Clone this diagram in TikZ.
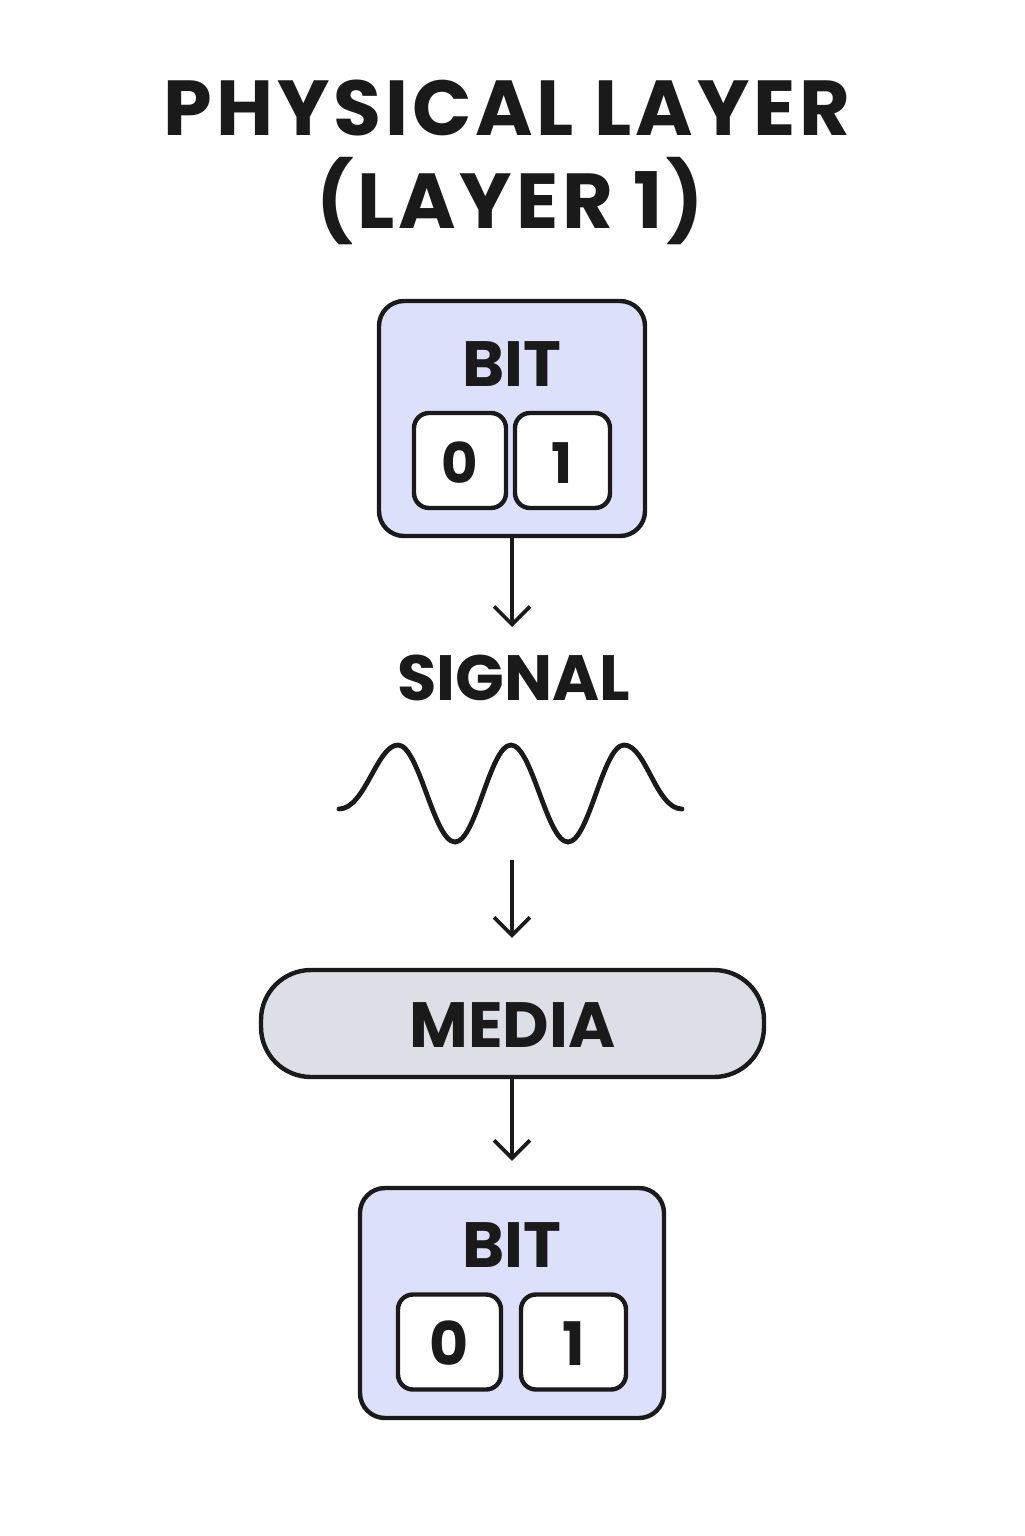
\documentclass[tikz,border=0pt]{standalone}
\usepackage{fontspec}
\setmainfont{Poppins}
\usetikzlibrary{arrows.meta}
\definecolor{ink}{HTML}{1A1A1A}
\definecolor{lav}{HTML}{DDE0FA}
\definecolor{mediagray}{HTML}{DCE0E6}
\tikzset{
  bitbox/.style={draw=ink, line width=2.2pt, fill=lav, rounded corners=12.5pt, inner sep=0pt},
  digbox/.style={draw=ink, line width=2.2pt, fill=white, rounded corners=7.5pt, inner sep=0pt, minimum height=47.5pt},
  mediabox/.style={draw=ink, line width=2.2pt, fill=mediagray, rounded corners=25pt, inner sep=0pt, minimum width=251.5pt, minimum height=53.5pt},
  lbl/.style={text=ink, font=\fontsize{32}{38}\selectfont\bfseries, anchor=base, inner sep=0pt},
  dig/.style={text=ink, font=\fontsize{28}{34}\selectfont\bfseries, anchor=base, inner sep=0pt},
  ttl/.style={text=ink, font=\fontsize{39}{47}\selectfont\bfseries\addfontfeatures{LetterSpace=5}, anchor=base, inner sep=0pt},
  arr/.style={draw=ink, line width=1.8pt, -{Straight Barb[length=9pt,width=18pt,line width=1.8pt]}},
  wave/.style={draw=ink, line width=2.4pt, line cap=round}
}
\begin{document}
\begin{tikzpicture}[x=0.5pt,y=-0.5pt]
\useasboundingbox (0,0) rectangle (1024,1536);
\fill[white] (0,0) rectangle (1024,1536);
% title
\node[ttl] (t1) at (507,135) {PHYSICAL LAYER};
\node[ttl] (t2) at (510,228) {(LAYER 1)};
% top bit box
\node[bitbox, minimum width=133pt, minimum height=117.5pt] (bit1) at (512,418.5) {};
\node[lbl] (bit1t) at (512,386) {BIT};
\node[digbox, minimum width=46pt] (d10) at (460,460.5) {};
\node[dig] at (460,483) {0};
\node[digbox, minimum width=47.5pt] (d11) at (562.5,460.5) {};
\node[dig] at (562.5,483) {1};
% arrow 1
\coordinate (a1) at (512,627);
\draw[arr] (bit1.south) -- (a1);
% signal
\node[lbl] (signal) at (514,700) {SIGNAL};
% wave
\draw[wave] (339,809) .. controls (365,809) and (377,745) .. (398,745)
  .. controls (419,745) and (434,842) .. (455,842)
  .. controls (476,842) and (490,745) .. (511,745)
  .. controls (532,745) and (547,842) .. (568,842)
  .. controls (589,842) and (603,745) .. (624,745)
  .. controls (646,745) and (656,809) .. (682,809);
% arrow 2
\coordinate (w) at (512,860);
\node[mediabox] (media) at (512.5,1023.5) {};
\node[lbl] at (512.5,1047) {MEDIA};
\draw[arr, shorten >=15pt] (w) -- (w |- media.north);
% bottom bit box
\node[bitbox, minimum width=152pt, minimum height=115pt] (bit2) at (512,1303) {};
\node[lbl] (bit2t) at (512,1267) {BIT};
\node[digbox, minimum width=51.5pt] (d20) at (449.5,1342) {};
\node[dig, font=\fontsize{30}{36}\selectfont\bfseries] at (449.5,1365) {0};
\node[digbox, minimum width=52.5pt] (d21) at (573.5,1342) {};
\node[dig, font=\fontsize{30}{36}\selectfont\bfseries] at (573.5,1365) {1};
% arrow 3
\draw[arr, shorten >=12.5pt] (media.south -| w) -- (w |- bit2.north);
\end{tikzpicture}
\end{document}
